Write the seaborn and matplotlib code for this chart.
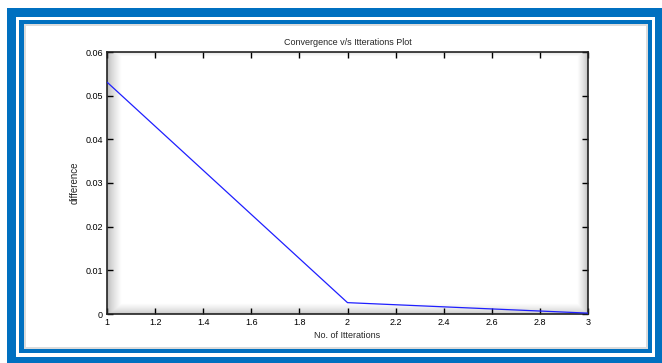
import numpy as np
import matplotlib
matplotlib.use('Agg')
import matplotlib.pyplot as plt
import seaborn as sns
from matplotlib.patches import Rectangle

# datos
iteraciones = [1, 2, 3]
diferencia = [0.0531, 0.0026, 0.0002]
xticks = [1, 1.2, 1.4, 1.6, 1.8, 2, 2.2, 2.4, 2.6, 2.8, 3]
yticks = [0, 0.01, 0.02, 0.03, 0.04, 0.05, 0.06]
ytick_labels = ['0', '0.01', '0.02', '0.03', '0.04', '0.05', '0.06']

sns.set_style('ticks')
plt.rcParams['font.family'] = ['Liberation Sans Narrow', 'Liberation Sans', 'DejaVu Sans']

W, H = 662, 363
fig = plt.figure(figsize=(W / 100, H / 100), dpi=100)
fig.patch.set_facecolor('white')

blue = '#0070C0'

def rect_px(x0, y0, x1, y1, color, z):
    # rectangulo en pixeles (origen arriba a la izquierda)
    fig.patches.append(Rectangle((x0 / W, 1 - y1 / H), (x1 - x0) / W, (y1 - y0) / H,
                                 transform=fig.transFigure, facecolor=color,
                                 edgecolor='none', zorder=z))

# marco azul doble
rect_px(7, 8, 670, 370, blue, 0)
rect_px(16, 17, 655, 357, 'white', 1)
rect_px(19, 20, 652, 353, blue, 2)
rect_px(24, 24, 648, 349, '#dcdcdc', 3)
rect_px(26, 26, 646, 347, 'white', 4)

ax = fig.add_axes([107 / W, 1 - 314 / H, (588 - 107) / W, (314 - 52) / H])
ax.set_zorder(10)

# sombreado suave de los bordes interiores (estilo matlab)
nx, ny = 480, 262
xx = np.arange(nx)[None, :].repeat(ny, 0)
yy = np.arange(ny)[:, None].repeat(nx, 1)
shade = np.ones((ny, nx))
shade = np.minimum(shade, 0.72 + 0.28 * np.clip(xx / 14, 0, 1) ** 0.7)
shade = np.minimum(shade, 0.75 + 0.25 * np.clip((nx - 1 - xx) / 10, 0, 1) ** 0.7)
shade = np.minimum(shade, 0.78 + 0.22 * np.clip((ny - 1 - yy) / 10, 0, 1) ** 0.7)
shade = np.minimum(shade, 0.90 + 0.10 * np.clip(yy / 4, 0, 1))
ax.imshow(shade, cmap='gray', vmin=0, vmax=1, extent=[0, 1, 0, 1],
          transform=ax.transAxes, aspect='auto', zorder=0, interpolation='bilinear')

sns.lineplot(x=iteraciones, y=diferencia, ax=ax, color='#1f1fff', linewidth=0.9, zorder=5)

ax.set_xlim(1, 3)
ax.set_ylim(0, 0.06)
ax.set_xticks(xticks)
ax.set_xticklabels([f'{t:g}' for t in xticks])
ax.set_yticks(yticks)
ax.set_yticklabels(ytick_labels)
ax.tick_params(direction='in', length=4, width=1, labelsize=6.5, colors='black',
               top=True, right=True, pad=3)
for s in ax.spines.values():
    s.set_visible(True)
    s.set_linewidth(1.2)
    s.set_color('#222222')

ax.set_title('Convergence v/s Itterations Plot', fontsize=6.5, pad=5)
ax.set_xlabel('No. of Itterations', fontsize=6.5, labelpad=3)
ax.set_ylabel('difference', fontsize=7, labelpad=4)

fig.savefig('out.png', dpi=100)
